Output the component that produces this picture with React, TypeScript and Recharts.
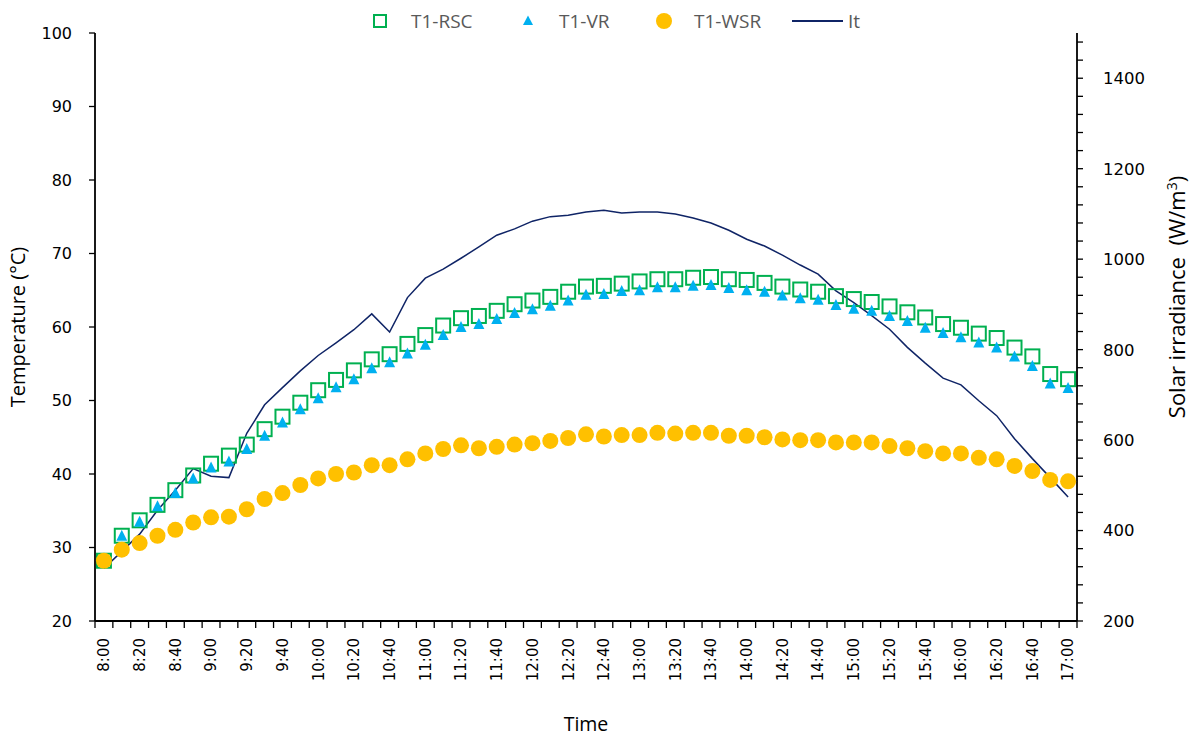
import React from 'react';
import { ComposedChart, Line, XAxis, YAxis, Legend, Label } from 'recharts';

const times = ['8:00','8:10','8:20','8:30','8:40','8:50','9:00','9:10','9:20','9:30','9:40','9:50','10:00','10:10','10:20','10:30','10:40','10:50','11:00','11:10','11:20','11:30','11:40','11:50','12:00','12:10','12:20','12:30','12:40','12:50','13:00','13:10','13:20','13:30','13:40','13:50','14:00','14:10','14:20','14:30','14:40','14:50','15:00','15:10','15:20','15:30','15:40','15:50','16:00','16:10','16:20','16:30','16:40','16:50','17:00'];

const t1Rsc = [28.2,31.6,33.7,35.8,37.8,39.8,41.4,42.5,44.0,46.1,47.8,49.7,51.4,52.8,54.1,55.6,56.3,57.7,58.9,60.2,61.2,61.5,62.2,63.1,63.6,64.1,64.8,65.5,65.6,65.9,66.2,66.5,66.5,66.7,66.8,66.5,66.4,66.0,65.5,65.1,64.8,64.2,63.8,63.4,62.8,62.0,61.3,60.4,59.9,59.1,58.5,57.2,56.0,53.6,52.9];
const t1Vr = [28.0,31.6,33.5,35.6,37.4,39.4,40.9,41.7,43.4,45.2,47.0,48.8,50.3,51.8,52.9,54.4,55.2,56.4,57.6,58.9,60.0,60.4,61.1,61.9,62.4,62.9,63.6,64.4,64.5,64.9,65.0,65.4,65.4,65.6,65.7,65.3,65.0,64.8,64.3,63.9,63.7,63.0,62.5,62.2,61.5,60.8,59.9,59.2,58.6,57.9,57.2,56.0,54.7,52.3,51.7];
const t1Wsr = [28.2,29.7,30.6,31.6,32.4,33.4,34.1,34.2,35.2,36.6,37.4,38.5,39.4,40.0,40.2,41.2,41.2,42.0,42.8,43.4,43.9,43.5,43.7,44.0,44.2,44.5,44.9,45.4,45.1,45.3,45.3,45.6,45.5,45.6,45.6,45.2,45.2,45.0,44.7,44.6,44.6,44.3,44.3,44.3,43.8,43.5,43.1,42.8,42.8,42.2,42.0,41.1,40.4,39.2,39.0];
const irradiance = [316,354,392,445,489,537,520,517,615,678,716,753,787,815,844,879,839,915,958,978,1002,1027,1053,1067,1084,1094,1097,1104,1108,1102,1104,1104,1100,1091,1080,1064,1044,1029,1009,987,967,930,904,875,845,805,770,737,722,687,654,603,559,517,474];

const leftTicks = [20, 30, 40, 50, 60, 70, 80, 90, 100];
const rightLabelTicks = [200, 400, 600, 800, 1000, 1200, 1400];
const rightMinorStep = 40;

const data = times.map((t, i) => ({ idx: i, time: t, rsc: t1Rsc[i], vr: t1Vr[i], wsr: t1Wsr[i], it: irradiance[i] }));
const xTicks = Array.from({ length: times.length * 2 + 1 }, (_, k) => -0.5 + k * 0.5);
const rightTicks = Array.from({ length: Math.floor((1500 - 200) / rightMinorStep) + 1 }, (_, k) => 200 + k * rightMinorStep);

const FONT = '"DejaVu Sans", Verdana, sans-serif';
const TITLE_FONT = '"Open Sans", "Noto Sans", sans-serif';
const GREEN = '#00B050';
const BLUE = '#00B0F0';
const YELLOW = '#FFC000';
const NAVY = '#0F2466';

const XTick = (props: any) => {
  const { x, y, payload } = props;
  const v = payload.value;
  if (Math.abs(v - Math.round(v)) > 0.01) {
    return <line x1={x} x2={x} y1={y} y2={y + 7} stroke="#000" strokeWidth={1.3} />;
  }
  const i = Math.round(v);
  if (i % 2 !== 0) return <g />;
  return (
    <text x={x} y={y + 17} transform={`rotate(-90 ${x} ${y + 17})`} textAnchor="end" dy="0.36em"
      fontSize={15} fontFamily={FONT} fill="#000">{times[i]}</text>
  );
};

const RightTick = (props: any) => {
  const { x, y, payload } = props;
  const v = payload.value;
  return (
    <g>
      <line x1={x} x2={x + 6} y1={y} y2={y} stroke="#000" strokeWidth={1.3} />
      {rightLabelTicks.includes(v) ? (
        <text x={x + 26} y={y} dy="0.36em" textAnchor="start" fontSize={16.5} fontFamily={FONT} fill="#000">{v}</text>
      ) : null}
    </g>
  );
};

const SquareDot = (props: any) => {
  const { cx, cy } = props;
  if (cx == null || cy == null) return <g />;
  return <rect x={cx - 7} y={cy - 7} width={14} height={14} fill="none" stroke={GREEN} strokeWidth={2} />;
};
const TriDot = (props: any) => {
  const { cx, cy } = props;
  if (cx == null || cy == null) return <g />;
  return <polygon points={`${cx},${cy - 6} ${cx + 5.5},${cy + 5} ${cx - 5.5},${cy + 5}`} fill={BLUE} />;
};
const CircleDot = (props: any) => {
  const { cx, cy } = props;
  if (cx == null || cy == null) return <g />;
  return <circle cx={cx} cy={cy} r={8} fill={YELLOW} />;
};

const legendText: React.CSSProperties = { position: 'absolute', top: 8, fontSize: 19, fontFamily: TITLE_FONT, color: '#595959', lineHeight: '26px' };

const renderLegend = () => (
  <div style={{ position: 'relative', width: 1190, height: 34 }}>
    <svg width={1190} height={34} style={{ position: 'absolute', left: 0, top: 0 }}>
      <rect x={374} y={15} width={12} height={12} fill="none" stroke={GREEN} strokeWidth={2} />
      <polygon points="528,15.5 533,25 523,25" fill={BLUE} />
      <circle cx={664} cy={21} r={8} fill={YELLOW} />
      <line x1={792} x2={843} y1={21} y2={21} stroke={NAVY} strokeWidth={2} />
    </svg>
    <span style={{ ...legendText, left: 411 }}>T1-RSC</span>
    <span style={{ ...legendText, left: 559 }}>T1-VR</span>
    <span style={{ ...legendText, left: 694 }}>T1-WSR</span>
    <span style={{ ...legendText, left: 848 }}>It</span>
  </div>
);

export default function App() {
  return (
    <div style={{ position: 'absolute', left: 0, top: 0, width: 1190, height: 736, background: '#fff' }}>
      <ComposedChart width={1190} height={736} data={data} margin={{ top: 33, right: 0, bottom: 0, left: 0 }}>
        <XAxis dataKey="idx" type="number" domain={[-0.5, 54.5]} ticks={xTicks} interval={0} height={115}
          tick={<XTick />} tickLine={false} tickSize={0} tickMargin={0} axisLine={{ stroke: '#000', strokeWidth: 1.8 }}>
          <Label content={(p: any) => {
            const vb = p.viewBox || { x: 95, y: 621, width: 982, height: 115 };
            return <text x={vb.x + vb.width / 2} y={vb.y + 103} textAnchor="middle" dy="0.36em" fontSize={19.5} fontFamily={TITLE_FONT} fill="#000">Time</text>;
          }} />
        </XAxis>
        <YAxis yAxisId="left" domain={[20, 100]} ticks={leftTicks} interval={0} width={95}
          tick={{ fontSize: 16, fontFamily: FONT, fill: '#000' }} tickSize={6} tickMargin={17}
          tickLine={{ stroke: '#000', strokeWidth: 1.3 }} axisLine={{ stroke: '#000', strokeWidth: 1.8 }}>
          <Label content={(p: any) => {
            const vb = p.viewBox || { x: 0, y: 33, width: 95, height: 588 };
            const cx = vb.x + 18;
            const cy = vb.y + vb.height / 2;
            return <text x={cx} y={cy} transform={`rotate(-90 ${cx} ${cy})`} textAnchor="middle" dy="0.36em" fontSize={20} fontFamily={TITLE_FONT} fill="#000">Temperature (°C)</text>;
          }} />
        </YAxis>
        <YAxis yAxisId="right" orientation="right" domain={[200, 1500]} ticks={rightTicks} interval={0} width={113}
          tick={<RightTick />} tickLine={false} tickSize={0} tickMargin={0} axisLine={{ stroke: '#000', strokeWidth: 1.8 }}>
          <Label content={(p: any) => {
            const vb = p.viewBox || { x: 1077, y: 33, width: 113, height: 588 };
            const cx = vb.x + 100;
            const cy = vb.y + vb.height / 2 - 30;
            return (
              <text x={cx} y={cy} transform={`rotate(-90 ${cx} ${cy})`} textAnchor="middle" dy="0.36em" fontSize={22} fontFamily={TITLE_FONT} fill="#000" xmlSpace="preserve">
                Solar irradiance  (W/m<tspan dy="-8" fontSize={14}>3</tspan><tspan dy="8">)</tspan>
              </text>
            );
          }} />
        </YAxis>
        <Legend layout="horizontal" verticalAlign="middle" align="center" content={renderLegend}
          wrapperStyle={{ position: 'absolute', top: 0, left: 0, width: 1190, height: 34 }} />
        <Line yAxisId="left" dataKey="rsc" name="T1-RSC" stroke="none" strokeWidth={0} dot={<SquareDot />} activeDot={false} isAnimationActive={false} legendType="square" />
        <Line yAxisId="left" dataKey="vr" name="T1-VR" stroke="none" strokeWidth={0} dot={<TriDot />} activeDot={false} isAnimationActive={false} legendType="triangle" />
        <Line yAxisId="left" dataKey="wsr" name="T1-WSR" stroke="none" strokeWidth={0} dot={<CircleDot />} activeDot={false} isAnimationActive={false} legendType="circle" />
        <Line yAxisId="right" dataKey="it" name="It" type="linear" stroke={NAVY} strokeWidth={1.5} dot={false} activeDot={false} isAnimationActive={false} />
      </ComposedChart>
    </div>
  );
}
